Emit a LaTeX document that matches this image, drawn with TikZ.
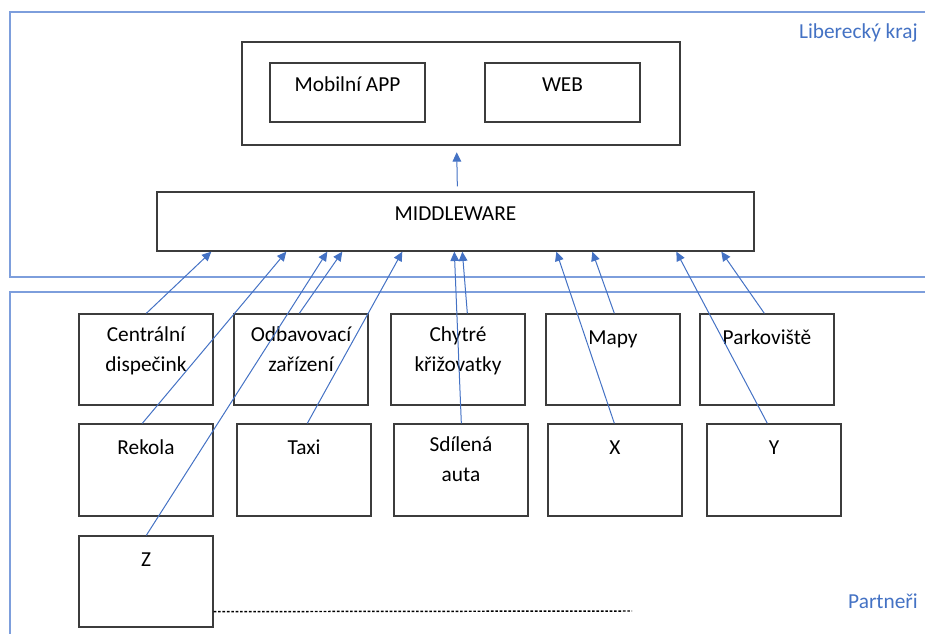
\documentclass[tikz,border=0pt]{standalone}
\usepackage{fontspec}
\setmainfont{Carlito}
\usetikzlibrary{arrows.meta,calc,fit}
\definecolor{frameblue}{RGB}{125,158,220}
\definecolor{txtblue}{RGB}{68,114,196}
\definecolor{arrblue}{RGB}{68,114,196}
\definecolor{boxgray}{RGB}{60,60,60}
\tikzset{
  box/.style={draw=boxgray, line width=1pt, inner sep=0pt, rectangle},
  bigbox/.style={draw=boxgray, line width=1.9pt, inner sep=0pt, rectangle},
  frame/.style={draw=frameblue, line width=1.5pt, inner sep=0pt, rectangle},
  lbl/.style={anchor=north, inner sep=0pt, align=center, text=black,
    font=\fontsize{16}{22.5}\selectfont, yshift=-8.5pt,
    execute at begin node={\rule{0pt}{13pt}}},
  rlbl/.style={lbl, yshift=-1.6pt},
  regiontxt/.style={anchor=east, inner sep=0pt, text=txtblue, font=\fontsize{16}{20}\selectfont},
  arr/.style={draw=arrblue, line width=0.75pt, -{Triangle[length=7pt,width=6.5pt]}},
  dotline/.style={draw=black, line width=1.1pt, dash pattern=on 2pt off 1.3pt},
}
\begin{document}
\begin{tikzpicture}[x=0.75pt,y=-0.75pt]
\clip (0,0) rectangle (925,634);
% region frames
\node[frame, fit={(10,12)(950,277)}] (lk) {};
\node[frame, fit={(10,292)(950,660)}] (pt) {};
\node[regiontxt] (lkt) at (918,33) {Liberecký kraj};
\node[regiontxt] (ptt) at (918,601) {Partneři};
% applications
\node[bigbox, fit={(242,42)(680,145)}] (app) {};
\node[box, fit={(270,63)(425,122)}, label={[lbl]north:{Mobilní APP}}] (mob) {};
\node[box, fit={(485,63)(640,122)}, label={[lbl]north:{WEB}}] (web) {};
% middleware
\node[box, fit={(157,192)(754,251)}, label={[lbl]north:{MIDDLEWARE}}] (mw) {};
% row 1
\node[box, fit={(79,314)(213,405)}, label={[rlbl]north:{Centrální\\dispečink}}] (c1) {};
\node[box, fit={(234,314)(368,405)}, label={[rlbl]north:{Odbavovací\\zařízení}}] (c2) {};
\node[box, fit={(391,314)(525,405)}, label={[rlbl]north:{Chytré\\křižovatky}}] (c3) {};
\node[box, fit={(546,314)(680,405)}, label={[rlbl]north:{Mapy}}] (c4) {};
\node[box, fit={(700,314)(834,405)}, label={[rlbl]north:{Parkoviště}}] (c5) {};
% row 2
\node[box, fit={(79,424)(213,516)}, label={[rlbl]north:{Rekola}}] (r1) {};
\node[box, fit={(237,424)(371,516)}, label={[rlbl]north:{Taxi}}] (r2) {};
\node[box, fit={(394,424)(528,516)}, label={[rlbl]north:{Sdílená\\auta}}] (r3) {};
\node[box, fit={(548,424)(682,516)}, label={[rlbl]north:{X}}] (r4) {};
\node[box, fit={(707,424)(841,516)}, label={[rlbl]north:{Y}}] (r5) {};
% row 3
\node[box, fit={(79,536)(213,627)}, label={[rlbl]north:{Z}}] (z) {};
\coordinate (dend) at (632,611);
\draw[dotline] ($(z.south east)+(0,-16)$) -- (dend);
% middleware -> app
\draw[arr] ($(mw.north west)+(301,-5)$) -- ($(app.south west)+(216,6)$);
% partners -> middleware
\draw[arr] ($(c1.north west)+(68,0)$) -- ($(mw.south west)+(55,0)$);
\draw[arr] ($(r1.north west)+(64,0)$) -- ($(mw.south west)+(130,0)$);
\draw[arr] ($(z.north west)+(68,0)$) -- ($(mw.south west)+(171,0)$);
\draw[arr] ($(c2.north west)+(66,0)$) -- ($(mw.south west)+(186,0)$);
\draw[arr] ($(r2.north west)+(71,0)$) -- ($(mw.south west)+(246,0)$);
\draw[arr] ($(r3.north west)+(68,0)$) -- ($(mw.south west)+(298,0)$);
\draw[arr] ($(c3.north west)+(77,0)$) -- ($(mw.south west)+(306,0)$);
\draw[arr] ($(r4.north west)+(67,0)$) -- ($(mw.south west)+(400,0)$);
\draw[arr] ($(c4.north west)+(69,0)$) -- ($(mw.south west)+(436,0)$);
\draw[arr] ($(r5.north west)+(61,0)$) -- ($(mw.south west)+(520,0)$);
\draw[arr] ($(c5.north west)+(65,0)$) -- ($(mw.south west)+(565,0)$);
\end{tikzpicture}
\end{document}
